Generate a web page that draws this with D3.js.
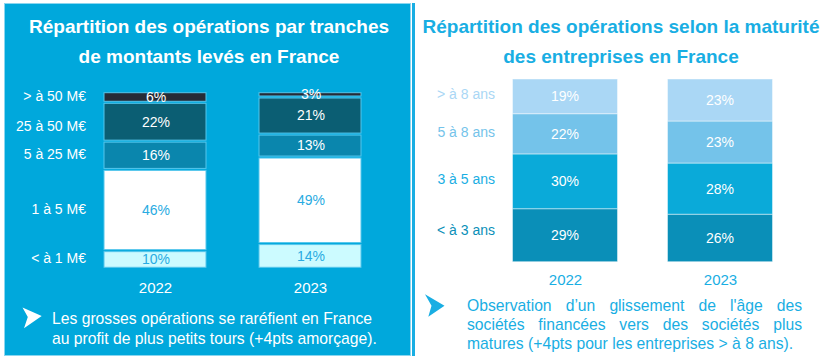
<!DOCTYPE html>
<html>
<head>
<meta charset="utf-8">
<script src="https://cdn.jsdelivr.net/npm/d3@7"></script>
<style>
  body { margin: 0; background: #fff; }
  svg { display: block; font-family: "Liberation Sans", Arial, sans-serif; }
</style>
</head>
<body>
<svg id="chart"></svg>
<script>
// données
let years = ["2022", "2023"];

let tranches = ["< à 1 M€", "1 à 5 M€", "5 à 25 M€", "25 à 50 M€", "> à 50 M€"];
let tranches_2022 = [10, 46, 16, 22, 6];
let tranches_2023 = [14, 49, 13, 21, 3];
let tranches_colors = ["#ccfbff", "#ffffff", "#0a86ad", "#0b5e73", "#262b36"];
let tranches_text = ["#29abe2", "#29abe2", "#ffffff", "#ffffff", "#ffffff"];

let maturites = ["< à 3 ans", "3 à 5 ans", "5 à 8 ans", "> à 8 ans"];
let maturite_2022 = [29, 30, 22, 19];
let maturite_2023 = [26, 28, 23, 23];
let maturite_colors = ["#0a8fb8", "#0aaad9", "#74c3ea", "#aad7f5"];

let title_left = ["Répartition des opérations par tranches", "de montants levés en France"];
let title_right = ["Répartition des opérations selon la maturité", "des entreprises en France"];
let note_left = ["Les grosses opérations se raréfient en France", "au profit de plus petits tours (+4pts amorçage)."];
let note_right = ["Observation d’un glissement de l'âge des", "sociétés financées vers des sociétés plus", "matures (+4pts pour les entreprises > à 8 ans)."];

const width = 839, height = 362;
const blue = "#00a8dc", textBlue = "#19aee3";

let svg = d3.select('#chart').attr('width', width).attr('height', height);

// empile les valeurs d'une année
function stack(values) {
    let cum = 0;
    return values.map((v, i) => {
        let d = { i: i, y0: cum, y1: cum + v, v: v };
        cum += v;
        return d;
    });
}

// ---------- panneau gauche ----------
svg.append('rect')
    .attr('x', 4.5).attr('y', 3.5).attr('width', 406).attr('height', 352)
    .attr('fill', blue).attr('stroke', '#8ad6f0').attr('stroke-width', 1);

let tl = svg.append('text').attr('text-anchor', 'middle').attr('fill', '#fff')
    .attr('font-weight', 'bold').attr('font-size', 19);
title_left.forEach((t, i) => tl.append('tspan').attr('x', 209).attr('y', 33 + i * 30).text(t));

let xL = d3.scalePoint().domain(years).range([77.5, 387.5]).padding(0.5);
let yL = d3.scaleLinear([0, 100], [268.3, 91.7]);
let bwL = 102;

[tranches_2022, tranches_2023].forEach((vals, k) => {
    let g = svg.append('g');
    let cx = xL(years[k]);
    let segs = stack(vals);
    g.selectAll('rect').data(segs).join('rect')
        .attr('x', cx - bwL / 2)
        .attr('y', d => yL(d.y1) + 1)
        .attr('width', bwL)
        .attr('height', d => Math.max(1, yL(d.y0) - yL(d.y1) - 2))
        .attr('fill', d => tranches_colors[d.i])
        .attr('stroke', '#55c6ec').attr('stroke-width', 1);
    g.selectAll('text').data(segs).join('text')
        .attr('x', cx + 1)
        .attr('y', d => (yL(d.y0) + yL(d.y1)) / 2)
        .attr('dy', '0.35em')
        .attr('text-anchor', 'middle')
        .attr('font-size', 14)
        .attr('fill', d => tranches_text[d.i])
        .text(d => d.v + '%');
});

// libellés de catégories, alignés sur 2022
svg.append('g').selectAll('text').data(stack(tranches_2022)).join('text')
    .attr('x', 86)
    .attr('y', d => (yL(d.y0) + yL(d.y1)) / 2 + (d.i == 3 ? 4 : -1))
    .attr('dy', '0.35em')
    .attr('text-anchor', 'end')
    .attr('font-size', 14)
    .attr('fill', '#fff')
    .text(d => tranches[d.i]);

svg.append('g').attr('transform', 'translate(0,288)')
    .call(d3.axisBottom(xL).tickSize(0).tickPadding(0))
    .call(g => g.select('.domain').remove())
    .selectAll('text')
    .attr('dy', '0.35em')
    .attr('font-family', null)
    .attr('font-size', 15)
    .attr('fill', '#fff');

svg.append('path')
    .attr('d', 'M22.5,307.5 L41.7,316 L24,328.3 L27.8,317 Z')
    .attr('fill', '#fff');

let nl = svg.append('text').attr('fill', '#fff').attr('font-size', 15.7);
note_left.forEach((t, i) => nl.append('tspan').attr('x', 52).attr('y', 324 + i * 20).text(t));

// ---------- panneau droit ----------
svg.append('rect')
    .attr('x', 412).attr('y', 3).attr('width', 3).attr('height', 353)
    .attr('fill', textBlue);

let tr = svg.append('text').attr('text-anchor', 'middle').attr('fill', textBlue)
    .attr('font-weight', 'bold').attr('font-size', 19);
title_right.forEach((t, i) => tr.append('tspan').attr('x', 621).attr('y', 33 + i * 30).text(t));

let xR = d3.scalePoint().domain(years).range([487.5, 797.5]).padding(0.5);
let yR = d3.scaleLinear([0, 100], [261.7, 79]);
let bwR = 105;

[maturite_2022, maturite_2023].forEach((vals, k) => {
    let g = svg.append('g');
    let cx = xR(years[k]);
    let segs = stack(vals);
    g.selectAll('rect').data(segs).join('rect')
        .attr('x', cx - bwR / 2)
        .attr('y', d => yR(d.y1))
        .attr('width', bwR)
        .attr('height', d => yR(d.y0) - yR(d.y1))
        .attr('fill', d => maturite_colors[d.i])
        .attr('stroke', 'rgba(255,255,255,0.45)').attr('stroke-width', 1);
    g.selectAll('text').data(segs).join('text')
        .attr('x', cx)
        .attr('y', d => (yR(d.y0) + yR(d.y1)) / 2)
        .attr('dy', '0.35em')
        .attr('text-anchor', 'middle')
        .attr('font-size', 14)
        .attr('fill', '#fff')
        .text(d => d.v + '%');
});

svg.append('g').selectAll('text').data(stack(maturite_2022)).join('text')
    .attr('x', 495)
    .attr('y', d => (yR(d.y0) + yR(d.y1)) / 2 + (d.i == 0 ? -5 : -2))
    .attr('dy', '0.35em')
    .attr('text-anchor', 'end')
    .attr('font-size', 14)
    .attr('fill', d => d.i == 1 ? textBlue : maturite_colors[d.i])
    .text(d => maturites[d.i]);

svg.append('g').attr('transform', 'translate(0,280)')
    .call(d3.axisBottom(xR).tickSize(0).tickPadding(0))
    .call(g => g.select('.domain').remove())
    .selectAll('text')
    .attr('dy', '0.35em')
    .attr('font-family', null)
    .attr('font-size', 15)
    .attr('fill', textBlue);

svg.append('path')
    .attr('d', 'M425,294.3 L444.5,305.7 L428.3,316.7 L431.5,305.7 Z')
    .attr('fill', textBlue);

// texte justifié : chaque mot placé à la main (sauf la dernière ligne)
let x0 = 467, x1 = 802;
note_right.forEach((line, li) => {
    let y = 311 + li * 19;
    if (li == note_right.length - 1) {
        svg.append('text').attr('x', x0).attr('y', y)
            .attr('font-size', 15.7).attr('fill', textBlue).text(line);
        return;
    }
    let words = line.split(' ');
    let nodes = words.map(w => svg.append('text')
        .attr('y', y).attr('font-size', 15.7).attr('fill', textBlue).text(w));
    let widths = nodes.map(n => n.node().getComputedTextLength());
    let gap = (x1 - x0 - d3.sum(widths)) / (words.length - 1);
    let x = x0;
    nodes.forEach((n, i) => { n.attr('x', x); x += widths[i] + gap; });
});
</script>
</body>
</html>
